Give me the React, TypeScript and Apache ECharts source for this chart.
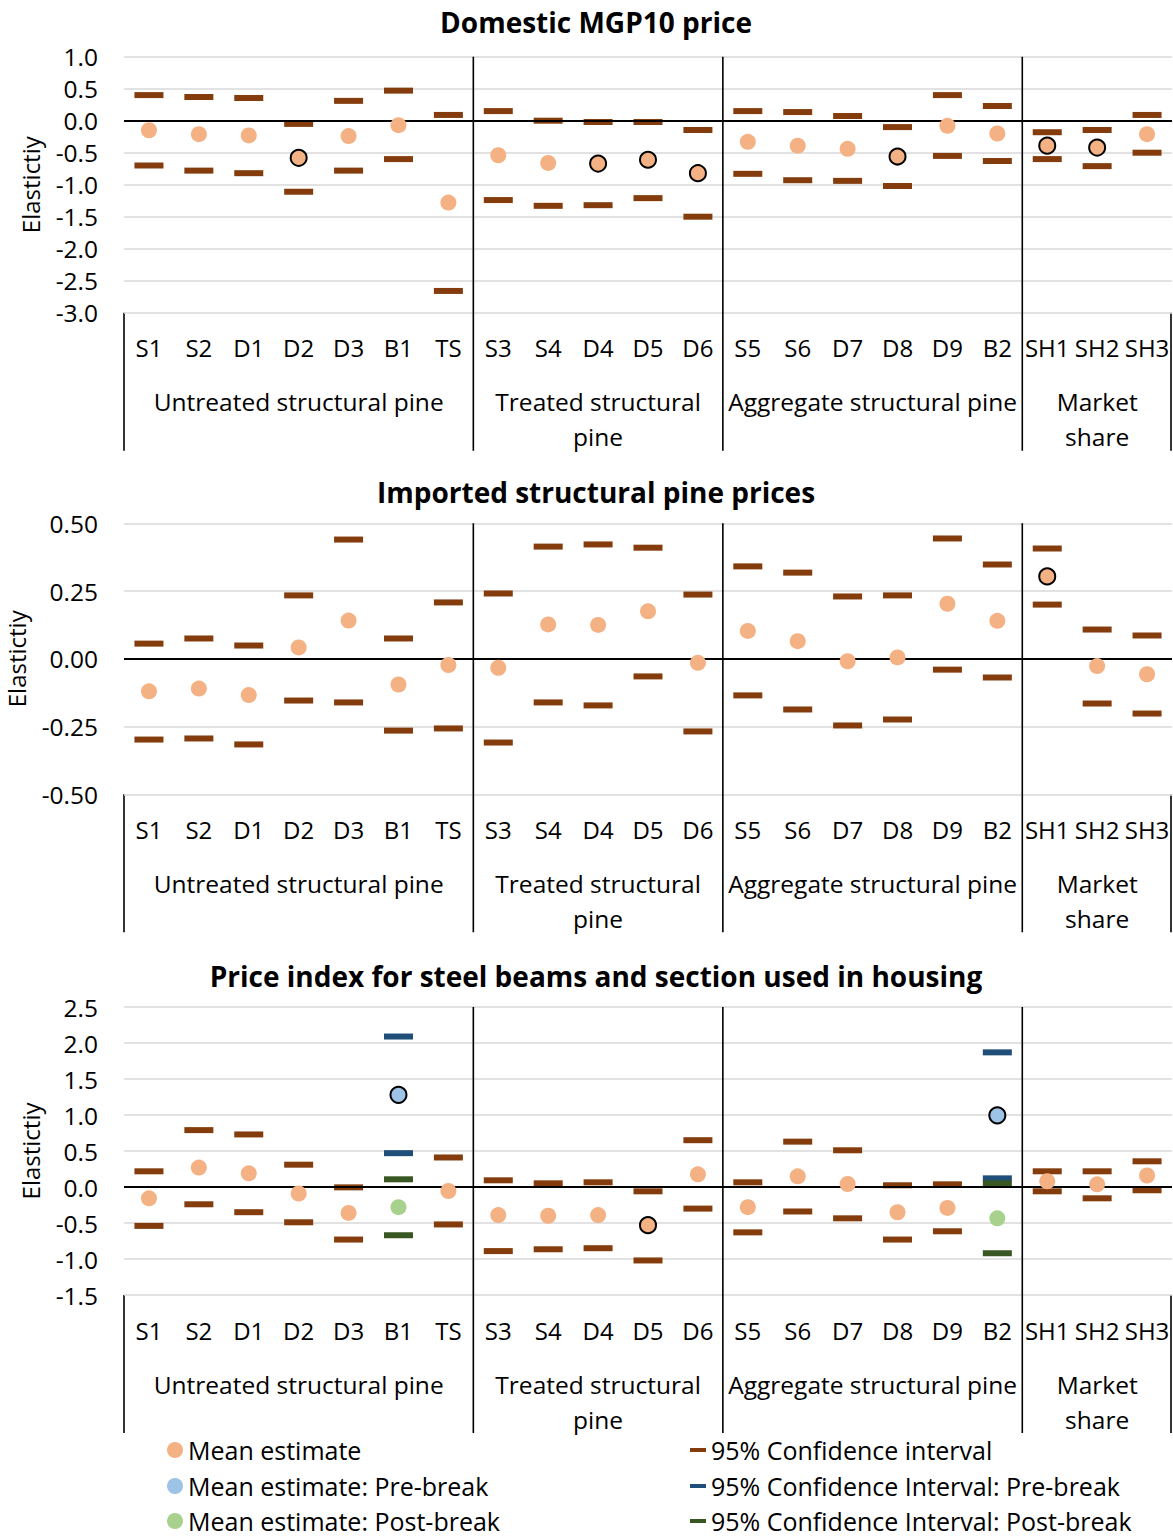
import React, { useEffect, useRef } from 'react';
import * as echarts from 'echarts';

const W = 1173;
const H = 1537;

// ---------- data ----------
const categories = ['S1', 'S2', 'D1', 'D2', 'D3', 'B1', 'TS', 'S3', 'S4', 'D4', 'D5', 'D6', 'S5', 'S6', 'D7', 'D8', 'D9', 'B2', 'SH1', 'SH2', 'SH3'];
const groupNames = ['Untreated structural pine', 'Treated structural\npine', 'Aggregate structural pine', 'Market\nshare'];
const groupSizes = [7, 5, 6, 3];

const panelTitles = ['Domestic MGP10 price', 'Imported structural pine prices', 'Price index for steel beams and section used in housing'];
const yAxisName = 'Elastictiy';

// Panel 1: Domestic MGP10 price
const mean1 = [-0.15, -0.21, -0.23, -0.58, -0.24, -0.07, -1.28, -0.54, -0.66, -0.67, -0.61, -0.82, -0.33, -0.39, -0.44, -0.56, -0.08, -0.20, -0.39, -0.42, -0.21];
const upper1 = [0.40, 0.37, 0.355, -0.05, 0.31, 0.47, 0.09, 0.15, 0.0, -0.02, -0.02, -0.145, 0.15, 0.135, 0.073, -0.10, 0.40, 0.23, -0.18, -0.145, 0.09];
const lower1 = [-0.70, -0.78, -0.82, -1.11, -0.78, -0.60, -2.66, -1.24, -1.33, -1.32, -1.21, -1.50, -0.83, -0.93, -0.94, -1.02, -0.55, -0.63, -0.60, -0.71, -0.50];
const highlight1 = ['D2', 'D4', 'D5', 'D6', 'D8', 'SH1', 'SH2'];

// Panel 2: Imported structural pine prices
const mean2 = [-0.12, -0.11, -0.134, 0.042, 0.141, -0.095, -0.023, -0.033, 0.127, 0.125, 0.175, -0.015, 0.103, 0.065, -0.009, 0.005, 0.203, 0.14, 0.304, -0.027, -0.057];
const upper2 = [0.056, 0.075, 0.049, 0.234, 0.44, 0.075, 0.208, 0.241, 0.414, 0.422, 0.41, 0.237, 0.341, 0.318, 0.23, 0.234, 0.444, 0.348, 0.407, 0.108, 0.086];
const lower2 = [-0.298, -0.294, -0.316, -0.154, -0.161, -0.265, -0.257, -0.309, -0.161, -0.172, -0.065, -0.268, -0.135, -0.187, -0.246, -0.224, -0.04, -0.069, 0.20, -0.165, -0.202];
const highlight2 = ['SH1'];

// Panel 3: Price index for steel beams
const mean3 = [-0.157, 0.27, 0.19, -0.09, -0.36, null, -0.055, -0.39, -0.40, -0.39, -0.53, 0.176, -0.28, 0.148, 0.042, -0.35, -0.29, null, 0.08, 0.037, 0.16];
const upper3 = [0.218, 0.79, 0.73, 0.31, -0.005, null, 0.41, 0.093, 0.051, 0.065, -0.06, 0.65, 0.065, 0.63, 0.51, 0.024, 0.037, null, 0.218, 0.218, 0.357];
const lower3 = [-0.54, -0.24, -0.35, -0.49, -0.73, null, -0.52, -0.89, -0.865, -0.85, -1.02, -0.30, -0.63, -0.34, -0.435, -0.73, -0.615, null, -0.06, -0.157, -0.045];
const highlight3 = ['D5'];

const breakCats = ['B1', 'B2'];
const preMean = [1.28, 0.995];
const preUpper = [2.09, 1.87];
const preLower = [0.47, 0.12];
const postMean = [-0.28, -0.435];
const postUpper = [0.107, 0.05];
const postLower = [-0.67, -0.92];
const preHighlight = ['B1', 'B2'];

const yMins = [-3, -0.5, -1.5];
const yMaxs = [1, 0.5, 2.5];
const yIntervals = [0.5, 0.25, 0.5];
const yDecimals = [1, 2, 1];

// ---------- styles / layout ----------
const FONT = '"Open Sans", "DejaVu Sans", sans-serif';
const C_MEAN = '#F4B183';
const C_CI = '#843C0C';
const C_PRE = '#9DC3E6';
const C_PRE_CI = '#1F4E79';
const C_POST = '#A9D18E';
const C_POST_CI = '#385723';

const N = {
  mean: 'Mean estimate',
  ci: '95% Confidence interval',
  preMean: 'Mean estimate: Pre-break',
  preCi: '95% Confidence Interval: Pre-break',
  postMean: 'Mean estimate: Post-break',
  postCi: '95% Confidence Interval: Post-break',
};

const GRID_LEFT = 124;
const GRID_W = 1048;
const layout = [
  { top: 56.7, height: 256, titleY: 22, nameGap: 82 },
  { top: 523.3, height: 271, titleY: 492, nameGap: 96 },
  { top: 1007, height: 288, titleY: 976, nameGap: 82 },
];

function points(cats: string[], vals: (number | null)[], highlight: string[] = []) {
  const out: any[] = [];
  cats.forEach((c, i) => {
    const v = vals[i];
    if (v === null || v === undefined) return;
    if (highlight.includes(c)) {
      out.push({ value: [c, v], itemStyle: { borderColor: '#000', borderWidth: 2 } });
    } else {
      out.push([c, v]);
    }
  });
  return out;
}

function ciSeries(name: string, color: string, grid: number, data: any[]) {
  return {
    type: 'scatter', name, xAxisIndex: grid, yAxisIndex: grid,
    symbol: 'rect', symbolSize: [29, 6], itemStyle: { color, opacity: 1 }, z: 3, data,
    emphasis: { disabled: true },
  };
}
function meanSeries(name: string, color: string, grid: number, data: any[]) {
  return {
    type: 'scatter', name, xAxisIndex: grid, yAxisIndex: grid,
    symbol: 'circle', symbolSize: 16, itemStyle: { color, opacity: 1 }, z: 5, data,
    emphasis: { disabled: true },
  };
}

export default function App() {
  const ref = useRef<HTMLDivElement>(null);
  useEffect(() => {
    const chart = echarts.init(ref.current!, null, { renderer: 'svg' });
    const means = [mean1, mean2, mean3];
    const uppers = [upper1, upper2, upper3];
    const lowers = [lower1, lower2, lower3];
    const highs = [highlight1, highlight2, highlight3];
    const catW = GRID_W / categories.length;

    const grids: any[] = [];
    const xAxes: any[] = [];
    const yAxes: any[] = [];
    const series: any[] = [];
    const graphics: any[] = [];

    layout.forEach((L, i) => {
      grids.push({ left: GRID_LEFT, top: L.top, width: GRID_W, height: L.height, containLabel: false, outerBoundsMode: 'none' });
      xAxes.push({
        type: 'category', gridIndex: i, data: categories, boundaryGap: true,
        axisLine: { show: false }, axisTick: { show: false }, splitLine: { show: false },
        axisLabel: { interval: 0, fontSize: 24, color: '#000', margin: 23, fontFamily: FONT },
      });
      yAxes.push({
        type: 'value', gridIndex: i, min: yMins[i], max: yMaxs[i], interval: yIntervals[i],
        name: yAxisName, nameLocation: 'middle', nameGap: L.nameGap, nameRotate: 90,
        nameTextStyle: { fontSize: 24, color: '#000', fontFamily: FONT },
        axisLine: { show: false }, axisTick: { show: false },
        splitLine: { show: true, lineStyle: { color: '#D9D9D9', width: 1.5 } },
        axisLabel: {
          fontSize: 24.5, color: '#000', margin: 26, fontFamily: FONT,
          formatter: (v: number) => v.toFixed(yDecimals[i]),
        },
      });
      // zero line
      series.push({
        type: 'line', name: 'zero', xAxisIndex: i, yAxisIndex: i, data: [], z: 2,
        markLine: {
          silent: true, symbol: ['none', 'none'], label: { show: false },
          lineStyle: { color: '#000', width: 2, type: 'solid' },
          data: [{ yAxis: 0 }],
        },
      });
      series.push(ciSeries(N.ci, C_CI, i, points(categories, uppers[i])));
      series.push(ciSeries(N.ci, C_CI, i, points(categories, lowers[i])));
      if (i === 2) {
        series.push(ciSeries(N.preCi, C_PRE_CI, i, points(breakCats, preUpper)));
        series.push(ciSeries(N.preCi, C_PRE_CI, i, points(breakCats, preLower)));
        series.push(ciSeries(N.postCi, C_POST_CI, i, points(breakCats, postUpper)));
        series.push(ciSeries(N.postCi, C_POST_CI, i, points(breakCats, postLower)));
      }
      series.push(meanSeries(N.mean, C_MEAN, i, points(categories, means[i], highs[i])));
      if (i === 2) {
        series.push(meanSeries(N.preMean, C_PRE, i, points(breakCats, preMean, preHighlight)));
        series.push(meanSeries(N.postMean, C_POST, i, points(breakCats, postMean)));
      }

      // title
      graphics.push({
        type: 'text', x: 596, y: L.titleY,
        style: { text: panelTitles[i], fontSize: 28, fontWeight: 'bold', fontFamily: FONT, fill: '#000', align: 'center', verticalAlign: 'middle' },
      });
      const bottom = L.top + L.height;
      const sepBottom = bottom + 138;
      let acc = 0;
      groupSizes.forEach((n, g) => {
        const cx = GRID_LEFT + (acc + n / 2) * catW;
        graphics.push({
          type: 'text', x: cx, y: bottom + 89 - 17.5,
          style: { text: groupNames[g], fontSize: 24.5, fontFamily: FONT, fill: '#000', align: 'center', verticalAlign: 'top', lineHeight: 35 },
        });
        acc += n;
        if (g < groupSizes.length - 1) {
          const x = GRID_LEFT + acc * catW;
          graphics.push({ type: 'line', shape: { x1: x, y1: L.top, x2: x, y2: sepBottom }, style: { stroke: '#000', lineWidth: 1.6 }, z: 10 });
        }
      });
      [GRID_LEFT, GRID_LEFT + GRID_W - 1].forEach((x) => {
        graphics.push({ type: 'line', shape: { x1: x, y1: bottom, x2: x, y2: sepBottom }, style: { stroke: '#000', lineWidth: 1.6 } });
      });
    });

    const legendItems = [
      { name: N.mean, icon: 'circle', left: 167, cy: 1450 },
      { name: N.preMean, icon: 'circle', left: 167, cy: 1486 },
      { name: N.postMean, icon: 'circle', left: 167, cy: 1521 },
      { name: N.ci, icon: 'rect', left: 690, cy: 1450 },
      { name: N.preCi, icon: 'rect', left: 690, cy: 1486 },
      { name: N.postCi, icon: 'rect', left: 690, cy: 1521 },
    ];
    const legends = legendItems.map((it) => ({
      data: [{ name: it.name, icon: it.icon }],
      left: it.left, top: it.cy - 13, padding: 0, itemGap: 0,
      itemWidth: 16, itemHeight: it.icon === 'circle' ? 16 : 4,
      selectedMode: false,
      textStyle: { fontSize: 25, color: '#000', fontFamily: FONT, padding: [0, 0, 0, 0], lineHeight: 26 },
      itemStyle: { borderWidth: 0, opacity: 1 },
    }));

    chart.setOption({
      animation: false,
      backgroundColor: '#fff',
      textStyle: { fontFamily: FONT },
      grid: grids,
      xAxis: xAxes,
      yAxis: yAxes,
      series,
      legend: legends,
      graphic: graphics,
    });
    return () => chart.dispose();
  }, []);
  return <div ref={ref} style={{ position: 'absolute', left: 0, top: 0, width: W, height: H }} />;
}
